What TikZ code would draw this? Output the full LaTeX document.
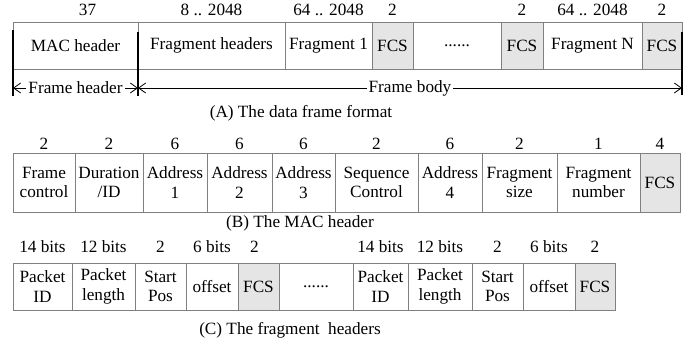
\documentclass[tikz,border=0pt]{standalone}
\usepackage{fontspec}
\setmainfont{Liberation Serif}
\usetikzlibrary{arrows.meta,positioning}

\begin{document}
\begin{tikzpicture}[
    x=0.5pt, y=-0.5pt,
    node distance=0pt,
    every node/.style={font=\fontsize{8.6}{9.8}\selectfont},
    cell/.style={draw=black!50, line width=0.5pt, align=center, inner sep=0pt, outer sep=0pt, anchor=north west},
    fcs/.style={cell, fill=black!10},
    every label/.style={inner sep=2.9pt},
    tick/.style={line width=1pt},
    span/.style={{Straight Barb[length=3.5pt,width=5pt]}-{Straight Barb[length=3.5pt,width=5pt]}, line width=0.4pt},
    spantext/.style={fill=white, inner sep=1pt}
]
\useasboundingbox (0,0) rectangle (690,345);

% (A) data frame
\begin{scope}[cell/.append style={minimum height=23.5pt}]
\node[cell, label={[xshift=6pt]above:37}, minimum width=62.5pt] (mac) at (13,22) {MAC header};
\node[cell, right=of mac, label=above:8 .. 2048, minimum width=73.5pt] (fraghdr) {Fragment headers};
\node[cell, right=of fraghdr, label=above:64 .. 2048, minimum width=43.5pt] (frag1) {Fragment 1};
\node[fcs, right=of frag1, label=above:2, minimum width=20.5pt] (fcs1) {FCS};
\node[cell, right=of fcs1, minimum width=44pt] (dotsA) {......};
\node[fcs, right=of dotsA, label=above:2, minimum width=21pt] (fcs2) {FCS};
\node[cell, right=of fcs2, label=above:64 .. 2048, minimum width=49.5pt] (fragN) {Fragment N};
\node[fcs, right=of fragN, label=above:2, minimum width=20pt] (fcs3) {FCS};
\end{scope}
\draw[tick] ([yshift=-4pt]mac.north west) -- ([yshift=-13.5pt]mac.south west);
\draw[tick] ([yshift=-5pt]fraghdr.north west) -- ([yshift=-13.5pt]fraghdr.south west);
\draw[tick] ([yshift=-5pt]fcs3.north east) -- ([yshift=-13pt]fcs3.south east);
\draw[span] ([yshift=-9.5pt]mac.south west) -- ([yshift=-9.5pt]mac.south east)
    node[midway, spantext] {Frame header};
\draw[span] ([yshift=-9.5pt]fraghdr.south west) -- ([yshift=-9.5pt]fcs3.south east)
    node[midway, spantext] {Frame body};
\node (capA) at (301,113) {(A) The data frame format};

% (B) MAC header
\begin{scope}[cell/.append style={minimum height=29.5pt}, every label/.append style={inner sep=1.5pt}]
\node[cell, label=above:2, minimum width=31pt] (fc) at (13,153) {Frame\\control};
\node[cell, right=of fc, label=above:2, minimum width=34pt] (dur) {Duration\\/ID};
\node[cell, right=of dur, label=above:6, minimum width=32pt] (addr1) {Address\\1};
\node[cell, right=of addr1, label=above:6, minimum width=32.5pt] (addr2) {Address\\2};
\node[cell, right=of addr2, label=above:6, minimum width=31.5pt] (addr3) {Address\\3};
\node[cell, right=of addr3, label=above:2, minimum width=41.5pt] (seq) {Sequence\\Control};
\node[cell, right=of seq, label=above:6, minimum width=32pt] (addr4) {Address\\4};
\node[cell, right=of addr4, label=above:2, minimum width=37.5pt] (fsize) {Fragment\\size};
\node[cell, right=of fsize, label=above:1, minimum width=41.5pt] (fnum) {Fragment\\number};
\node[fcs, right=of fnum, label=above:4, minimum width=20pt] (fcsB) {FCS};
\end{scope}
\node (capB) at (300,223) {(B) The MAC header};

% (C) fragment headers
\begin{scope}[cell/.append style={minimum height=23.5pt}, every label/.append style={inner sep=5pt}]
\node[cell, label=above:14 bits, minimum width=29.5pt] (pid1) at (13,263) {Packet\\ID};
\node[cell, right=of pid1, label=above:12 bits, minimum width=31.5pt] (plen1) {Packet\\length};
\node[cell, right=of plen1, label=above:2, minimum width=25.5pt] (spos1) {Start\\Pos};
\node[cell, right=of spos1, label=above:6 bits, minimum width=26pt] (off1) {offset};
\node[fcs, right=of off1, label={[xshift=-2pt]above:2}, minimum width=20.5pt] (fcsC1) {FCS};
\node[cell, right=of fcsC1, minimum width=37pt] (dotsC) {......};
\node[cell, right=of dotsC, label=above:14 bits, minimum width=27.5pt] (pid2) {Packet\\ID};
\node[cell, right=of pid2, label=above:12 bits, minimum width=32pt] (plen2) {Packet\\length};
\node[cell, right=of plen2, label=above:2, minimum width=25.5pt] (spos2) {Start\\Pos};
\node[cell, right=of spos2, label=above:6 bits, minimum width=26pt] (off2) {offset};
\node[fcs, right=of off2, label=above:2, minimum width=20pt] (fcsC2) {FCS};
\end{scope}
\node (capC) at (290,330) {(C) The fragment\ \ headers};
\end{tikzpicture}
\end{document}
